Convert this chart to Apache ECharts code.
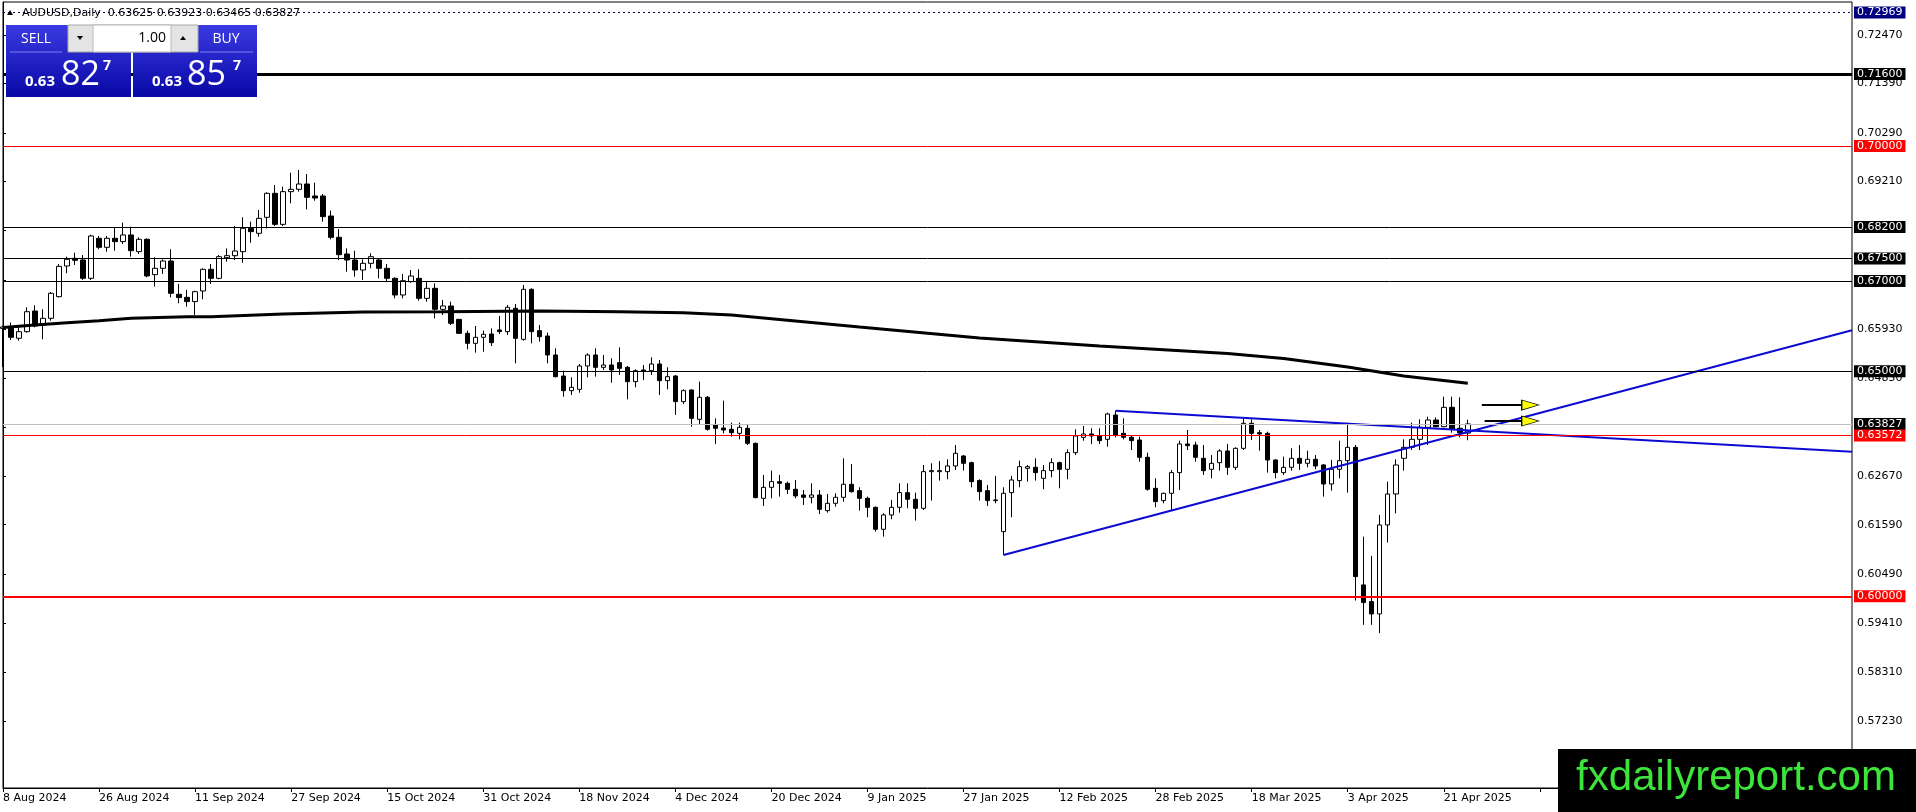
<!DOCTYPE html>
<html><head><meta charset="utf-8">
<script src="https://cdn.jsdelivr.net/npm/echarts@6/dist/echarts.min.js"></script>
<style>html,body{margin:0;padding:0;background:#fff;}#c{width:1916px;height:812px;}</style>
</head><body><div id="c"></div>
<script>
const dateLabels = ['8 Aug 2024','26 Aug 2024','11 Sep 2024','27 Sep 2024','15 Oct 2024','31 Oct 2024','18 Nov 2024','4 Dec 2024','20 Dec 2024','9 Jan 2025','27 Jan 2025','12 Feb 2025','28 Feb 2025','18 Mar 2025','3 Apr 2025','21 Apr 2025'];
const priceTicks = [0.72470,0.71390,0.70290,0.69210,0.68130,0.67030,0.65930,0.64850,0.63750,0.62670,0.61590,0.60490,0.59410,0.58310,0.57230];

const opens = [
0.65951,0.65951,0.65731,0.65877,0.66336,0.66027,0.66174,0.66655,0.67336,0.67507,
0.67470,0.67063,0.67951,0.67751,0.67951,0.67877,0.68025,0.67655,0.67929,0.67144,
0.67285,0.67447,0.66708,0.66640,0.66545,0.66781,0.67262,0.67062,0.67521,0.67565,
0.67654,0.68173,0.68062,0.68417,0.68950,0.68261,0.68987,0.69039,0.69157,0.68891,
0.68891,0.68446,0.67973,0.67602,0.67469,0.67247,0.67395,0.67469,0.67284,0.67062,
0.66692,0.66988,0.67062,0.66618,0.66840,0.66374,0.66448,0.66151,0.65840,0.65618,
0.65752,0.65825,0.65915,0.65878,0.66396,0.65707,0.66818,0.65900,0.65781,0.65359,
0.64892,0.64567,0.64596,0.65115,0.65359,0.65085,0.65137,0.65189,0.65085,0.64767,
0.65026,0.65011,0.65159,0.64789,0.64892,0.64323,0.64582,0.63930,0.64419,0.63804,
0.63738,0.63708,0.63619,0.63730,0.63397,0.62176,0.62420,0.62546,0.62509,0.62376,
0.62250,0.62198,0.62250,0.61902,0.62065,0.62198,0.62487,0.62346,0.62176,0.61976,
0.61488,0.61806,0.61976,0.62302,0.62154,0.61954,0.62768,0.62768,0.62768,0.62894,
0.63116,0.62968,0.62569,0.62346,0.62139,0.61436,0.62302,0.62569,0.62842,0.62865,
0.62620,0.62791,0.62968,0.62820,0.63190,0.63530,0.63605,0.63560,0.63486,0.64026,
0.63619,0.63531,0.63471,0.63087,0.62398,0.62125,0.62287,0.62746,0.63383,0.63360,
0.63064,0.62820,0.62968,0.63227,0.62864,0.63286,0.63841,0.63634,0.63619,0.63027,
0.62746,0.62864,0.63064,0.62953,0.63042,0.62916,0.62494,0.62820,0.63012,0.63308,
0.60252,0.59882,0.59608,0.61584,0.62272,0.63064,0.63308,0.63486,0.63752,0.63915,
0.63767,0.64197,0.63730,0.63625];

const highs = [
0.66010,0.66078,0.65990,0.66418,0.66462,0.66374,0.66758,0.67381,0.67543,0.67632,
0.67580,0.68032,0.68003,0.68003,0.68180,0.68299,0.68210,0.67973,0.67951,0.67529,
0.67484,0.67707,0.66937,0.66804,0.66788,0.67284,0.67380,0.67580,0.67728,0.68225,
0.68417,0.68321,0.68580,0.68972,0.69135,0.69098,0.69409,0.69468,0.69379,0.69187,
0.68935,0.68565,0.68158,0.67728,0.67676,0.67484,0.67617,0.67506,0.67380,0.67084,
0.67158,0.67247,0.67262,0.66988,0.66951,0.66581,0.66544,0.66159,0.65900,0.66003,
0.65900,0.65951,0.66225,0.66470,0.66492,0.66914,0.66840,0.66026,0.65855,0.65507,
0.65011,0.64863,0.65159,0.65396,0.65507,0.65359,0.65285,0.65529,0.65115,0.65041,
0.65137,0.65307,0.65248,0.65085,0.64915,0.64596,0.64596,0.64767,0.64448,0.63952,
0.64345,0.63856,0.63856,0.63827,0.63412,0.62694,0.62790,0.62694,0.62546,0.62583,
0.62361,0.62509,0.62361,0.62272,0.62287,0.63064,0.62938,0.62420,0.62213,0.61991,
0.61843,0.62139,0.62509,0.62509,0.62302,0.62916,0.62953,0.63005,0.63042,0.63360,
0.63138,0.62990,0.62598,0.62472,0.62672,0.62420,0.62672,0.63013,0.62916,0.63064,
0.62916,0.63064,0.62990,0.63264,0.63708,0.63782,0.63730,0.63730,0.64078,0.64123,
0.63952,0.63582,0.63545,0.63190,0.62620,0.62302,0.62805,0.63457,0.63693,0.63434,
0.63360,0.63138,0.63264,0.63383,0.63308,0.63952,0.63930,0.63693,0.63656,0.63042,
0.63101,0.63286,0.63360,0.63234,0.63138,0.62938,0.63027,0.63456,0.63856,0.63360,
0.61325,0.60896,0.61806,0.62546,0.63042,0.63486,0.63856,0.63930,0.63989,0.63974,
0.64434,0.64434,0.64419,0.63923];

const lows = [
0.65090,0.65694,0.65679,0.65855,0.65974,0.65707,0.66122,0.66640,0.67174,0.67359,
0.67026,0.67026,0.67707,0.67655,0.67677,0.67825,0.67544,0.67603,0.67085,0.66878,
0.67159,0.66640,0.66508,0.66434,0.66250,0.66596,0.66936,0.67040,0.67432,0.67469,
0.67410,0.67854,0.67987,0.68173,0.68225,0.68225,0.68728,0.68987,0.68594,0.68787,
0.68321,0.67928,0.67469,0.67210,0.67099,0.67025,0.67284,0.67062,0.66988,0.66618,
0.66618,0.66966,0.66566,0.66544,0.66174,0.66247,0.66026,0.65825,0.65485,0.65411,
0.65433,0.65559,0.65825,0.65803,0.65174,0.65677,0.65618,0.65655,0.65174,0.64863,
0.64433,0.64470,0.64522,0.64863,0.64878,0.65026,0.64744,0.64915,0.64374,0.64641,
0.64804,0.64915,0.64470,0.64596,0.64028,0.64271,0.63767,0.63804,0.63678,0.63384,
0.63619,0.63545,0.63486,0.63360,0.62176,0.62006,0.62176,0.62213,0.62272,0.62176,
0.62028,0.62065,0.61828,0.61857,0.61991,0.62102,0.62302,0.61902,0.61754,0.61436,
0.61325,0.61710,0.61857,0.61954,0.61681,0.61917,0.62125,0.62569,0.62598,0.62805,
0.62791,0.62420,0.62125,0.62006,0.62065,0.60917,0.61754,0.62420,0.62546,0.62569,
0.62376,0.62642,0.62398,0.62598,0.63138,0.63456,0.63383,0.63383,0.63323,0.63530,
0.63486,0.63249,0.62990,0.62346,0.61977,0.62065,0.61902,0.62361,0.63249,0.62990,
0.62694,0.62620,0.62790,0.62694,0.62805,0.63249,0.63471,0.63234,0.62746,0.62620,
0.62694,0.62790,0.62805,0.62864,0.62820,0.62213,0.62346,0.62620,0.62302,0.59905,
0.59365,0.59365,0.59180,0.61192,0.61842,0.62790,0.63249,0.63249,0.63360,0.63752,
0.63752,0.63634,0.63530,0.63465];

const closes = [
0.65980,0.65752,0.65877,0.66321,0.66003,0.66174,0.66729,0.67329,0.67484,0.67462,
0.67063,0.68003,0.67751,0.67951,0.67877,0.68025,0.67677,0.67929,0.67115,0.67285,
0.67447,0.66729,0.66634,0.66545,0.66766,0.67262,0.67062,0.67543,0.67565,0.67669,
0.68173,0.68099,0.68395,0.68950,0.68261,0.68987,0.69039,0.69157,0.68861,0.68846,
0.68432,0.67973,0.67588,0.67469,0.67247,0.67395,0.67543,0.67284,0.67062,0.66692,
0.67010,0.67114,0.66618,0.66840,0.66374,0.66448,0.66063,0.65840,0.65618,0.65752,
0.65818,0.65633,0.65878,0.66418,0.65729,0.66818,0.65878,0.65766,0.65359,0.64878,
0.64567,0.64641,0.65115,0.65359,0.65085,0.65137,0.65026,0.65063,0.64767,0.65011,
0.64996,0.65159,0.64789,0.64878,0.64323,0.64567,0.63952,0.64419,0.63708,0.63730,
0.63693,0.63634,0.63752,0.63397,0.62191,0.62420,0.62546,0.62509,0.62376,0.62228,
0.62198,0.62250,0.61931,0.62065,0.62198,0.62487,0.62324,0.62176,0.61976,0.61488,
0.61806,0.61976,0.62302,0.62154,0.61954,0.62768,0.62791,0.62791,0.62894,0.63175,
0.62953,0.62546,0.62324,0.62125,0.62125,0.62287,0.62583,0.62879,0.62879,0.62746,
0.62791,0.62968,0.62820,0.63190,0.63560,0.63604,0.63560,0.63457,0.64049,0.63582,
0.63531,0.63457,0.63087,0.62376,0.62102,0.62287,0.62746,0.63383,0.63345,0.63087,
0.62790,0.62953,0.63227,0.62864,0.63286,0.63841,0.63619,0.63605,0.63027,0.62746,
0.62864,0.63064,0.62953,0.63042,0.62894,0.62494,0.62820,0.63012,0.63308,0.60437,
0.59860,0.59608,0.61584,0.62272,0.62916,0.63308,0.63486,0.63752,0.63915,0.63767,
0.64197,0.63708,0.63634,0.63827];

// moving average samples [bar index, price]
const maPoints = [[0,0.65970],[4,0.66025],[8,0.66076],[12,0.66121],[16,0.66174],[23,0.66210],[26,0.66210],[35,0.66270],[45,0.66314],[55,0.66321],[67,0.66336],[77,0.66321],[85,0.66298],[91,0.66247],[107,0.65981],[122,0.65736],[137,0.65559],[153,0.65390],[160,0.65281],[168,0.65092],[175,0.64892],[183,0.64730]];
const upTrend = [[125,0.60917],[231,0.65910]];
const downTrend = [[139,0.64122],[231,0.63211]];
const arrowLevels = [0.64248,0.63893];
const arrowStarts = [184.75,185.1];
const arrowLineEnd = 189.9;
const arrowHead = 190.8;

const highMark = 0.72969;
const thickBlackLevel = 0.71600;
const blackLevels = [0.68200,0.67500,0.67000,0.65000];
const redLevels = [0.70000,0.63572];
const thickRedLevel = 0.60000;
const bidPrice = 0.63827;

const totalSlots = 232;
const categories = Array.from({length: totalSlots}, (_, i) => String(i));

const FONT = 'DejaVu Sans';
function lvl(v, color, width, labelBg, type) {
  return {
    yAxis: v,
    lineStyle: {color: color, width: width, type: type || 'solid'},
    label: {backgroundColor: labelBg}
  };
}

const chart = echarts.init(document.getElementById('c'), null, {renderer: 'canvas'});
const option = {
  animation: false,
  backgroundColor: '#ffffff',
  grid: {left: 3, right: 64, top: 2, bottom: 24, show: true, borderColor: '#000', borderWidth: 1},
  xAxis: [{
    type: 'category', data: categories, boundaryGap: false,
    axisLine: {show: true, lineStyle: {color: '#000', width: 1}},
    axisTick: {show: true, interval: 11, length: 4, lineStyle: {color: '#000'}},
    axisLabel: {interval: 11, align: 'left', margin: 5, fontSize: 11, fontFamily: FONT, color: '#000',
      formatter: (v, i) => (i % 12 === 0 && dateLabels[i / 12]) ? dateLabels[i / 12] : ''},
    splitLine: {show: false}
  }, {
    type: 'value', min: 0, max: totalSlots - 1, show: false
  }],
  yAxis: {
    type: 'value', position: 'right', min: 0.55741, max: 0.73200,
    axisLine: {show: true, lineStyle: {color: '#000', width: 1}},
    axisTick: {show: true, length: 3, customValues: priceTicks, lineStyle: {color: '#000'}},
    axisLabel: {customValues: priceTicks, formatter: v => v.toFixed(5), margin: 5, fontSize: 11, fontFamily: FONT, color: '#000'},
    splitLine: {show: false}
  },
  series: [{
    type: 'candlestick', xAxisIndex: 0, yAxisIndex: 0, barWidth: 5,
    data: opens.map((o, i) => [o, closes[i], lows[i], highs[i]]),
    itemStyle: {color: '#ffffff', color0: '#000000', borderColor: '#000000', borderColor0: '#000000', borderWidth: 1},
    markLine: {
      silent: true, symbol: ['none', 'none'], animation: false, precision: 5,
      label: {show: true, position: 'end', distance: 2, formatter: p => Number(p.value).toFixed(5),
        color: '#fff', fontSize: 11, fontFamily: FONT, padding: [1, 3, 0, 3]},
      data: [
        lvl(highMark, '#000040', 1, '#000080', [2, 3]),
        lvl(thickBlackLevel, '#000', 3, '#000'),
        ...blackLevels.map(v => lvl(v, '#000', 1, '#000')),
        lvl(bidPrice, '#c0c0c0', 1, '#000'),
        ...redLevels.map(v => lvl(v, '#ff0000', 1, '#ff0000')),
        lvl(thickRedLevel, '#ff0000', 2, '#ff0000')
      ]
    }
  }, {
    type: 'line', xAxisIndex: 1, data: maPoints, symbol: 'none', silent: true,
    lineStyle: {color: '#000', width: 3}, z: 3
  }, {
    type: 'line', xAxisIndex: 1, data: upTrend, symbol: 'none', silent: true,
    lineStyle: {color: '#0a0ad2', width: 2}, z: 4
  }, {
    type: 'line', xAxisIndex: 1, data: downTrend, symbol: 'none', silent: true,
    lineStyle: {color: '#0a0ad2', width: 2}, z: 4
  },
  ...arrowLevels.map((v, k) => ({
    type: 'line', xAxisIndex: 1, data: [[arrowStarts[k], v], [arrowLineEnd, v]], symbol: 'none', silent: true,
    lineStyle: {color: '#000', width: 2}, z: 5
  })),
  {
    type: 'scatter', xAxisIndex: 1, silent: true, z: 6,
    data: arrowLevels.map(v => [arrowHead, v]),
    symbol: 'triangle', symbolRotate: -90, symbolSize: [10, 17],
    itemStyle: {color: '#ffff00', borderColor: '#000', borderWidth: 1, opacity: 1}
  }],
  graphic: [
    // title
    {type: 'polygon', z: 100, shape: {points: [[7, 15], [13, 15], [10, 10]]}, style: {fill: '#000'}},
    {type: 'text', z: 100, x: 22, y: 13, style: {text: 'AUDUSD,Daily  0.63625 0.63923 0.63465 0.63827', font: '11px "DejaVu Sans"', fill: '#000', verticalAlign: 'middle'}},
    // trade panel
    {type: 'rect', z: 100, shape: {x: 6, y: 25, width: 125, height: 72},
      style: {fill: new echarts.graphic.LinearGradient(0, 0, 0, 1, [{offset: 0, color: '#3a3ae2'}, {offset: 1, color: '#0808a6'}])}},
    {type: 'rect', z: 100, shape: {x: 133, y: 25, width: 124, height: 72},
      style: {fill: new echarts.graphic.LinearGradient(0, 0, 0, 1, [{offset: 0, color: '#3a3ae2'}, {offset: 1, color: '#0808a6'}])}},
    {type: 'rect', z: 101, shape: {x: 68, y: 25, width: 130, height: 27}, style: {fill: '#e4e4e4', stroke: '#a8a8a8', lineWidth: 1}},
    {type: 'rect', z: 102, shape: {x: 93, y: 25, width: 78, height: 27}, style: {fill: '#ffffff', stroke: '#b8b8b8', lineWidth: 1}},
    {type: 'polygon', z: 103, shape: {points: [[77, 36], [83, 36], [80, 40]]}, style: {fill: '#000'}},
    {type: 'polygon', z: 103, shape: {points: [[180, 40], [186, 40], [183, 36]]}, style: {fill: '#000'}},
    {type: 'text', z: 103, x: 166, y: 38, style: {text: '1.00', font: '14px "Open Sans"', fill: '#000', align: 'right', verticalAlign: 'middle'}},
    {type: 'line', z: 103, shape: {x1: 10, y1: 52, x2: 62, y2: 52}, style: {stroke: '#7f7ff5', lineWidth: 1}},
    {type: 'line', z: 103, shape: {x1: 200, y1: 52, x2: 253, y2: 52}, style: {stroke: '#7f7ff5', lineWidth: 1}},
    {type: 'text', z: 103, x: 36, y: 39, style: {text: 'SELL', font: '14px "Open Sans"', fill: '#fff', align: 'center', verticalAlign: 'middle'}},
    {type: 'text', z: 103, x: 226, y: 39, style: {text: 'BUY', font: '14px "Open Sans"', fill: '#fff', align: 'center', verticalAlign: 'middle'}},
    {type: 'text', z: 103, x: 25, y: 82, style: {text: '0.63', font: 'bold 15px "Open Sans"', fill: '#fff', verticalAlign: 'middle'}},
    {type: 'text', z: 103, x: 61, y: 75, style: {text: '82', font: '34px "Open Sans"', fill: '#fff', verticalAlign: 'middle'}},
    {type: 'text', z: 103, x: 103, y: 66, style: {text: '7', font: 'bold 14px "Open Sans"', fill: '#fff', verticalAlign: 'middle'}},
    {type: 'text', z: 103, x: 152, y: 82, style: {text: '0.63', font: 'bold 15px "Open Sans"', fill: '#fff', verticalAlign: 'middle'}},
    {type: 'text', z: 103, x: 187, y: 75, style: {text: '85', font: '34px "Open Sans"', fill: '#fff', verticalAlign: 'middle'}},
    {type: 'text', z: 103, x: 233, y: 66, style: {text: '7', font: 'bold 14px "Open Sans"', fill: '#fff', verticalAlign: 'middle'}},
    // watermark
    {type: 'rect', z: 110, shape: {x: 1558, y: 749, width: 358, height: 63}, style: {fill: '#000'}},
    {type: 'text', z: 111, x: 1736, y: 778, style: {text: 'fxdailyreport.com', font: '42px "Liberation Sans"', fill: '#3de43a', align: 'center', verticalAlign: 'middle'}}
  ]
};
chart.setOption(option);
</script>
</body></html>
